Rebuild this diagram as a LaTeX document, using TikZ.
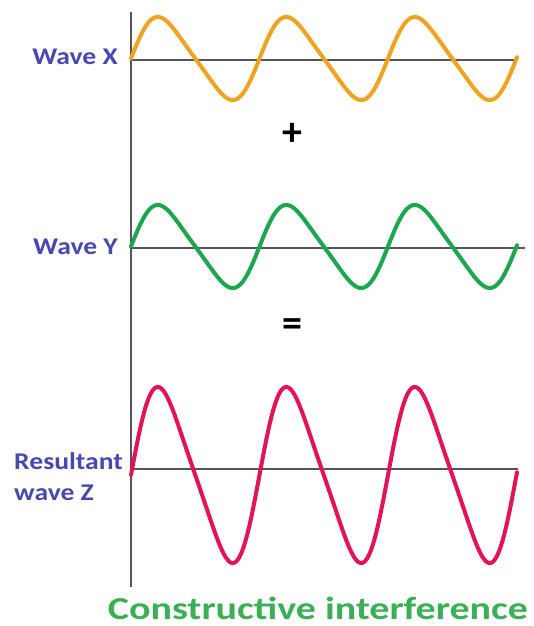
\documentclass[tikz,border=0pt]{standalone}
\usepackage{fontspec}
\setmainfont{Carlito}
\usetikzlibrary{positioning}
\definecolor{waveorange}{RGB}{240,162,32}
\definecolor{wavegreen}{RGB}{28,166,78}
\definecolor{wavepink}{RGB}{228,18,88}
\definecolor{labelblue}{RGB}{72,72,176}
\definecolor{titlegreen}{RGB}{58,175,85}
\definecolor{axisgray}{RGB}{85,85,85}
% one wave: centre line y, amplitude, colour (peaks lean a little to the left)
\newcommand{\wavecurve}[3]{%
  \draw[wave,#3] plot[domain=0:386,samples=240,variable=\t]
    ({131+\t},{#1-#2*lean(\t*2.8016)});%
}
\tikzset{
  declare function={lean(\a)=(sin(\a)+0.15*sin(2*\a))/1.04;},
  wave/.style={line width=4pt,line join=round,line cap=round},
  axisline/.style={axisgray,line width=1.6pt},
  wavelabel/.style={font=\bfseries\fontsize{24}{31}\selectfont,text=labelblue,
    inner sep=0pt,xscale=1.15},
  opsign/.style={font=\bfseries\fontsize{40}{40}\selectfont,inner sep=0pt}
}
\begin{document}
\begin{tikzpicture}[x=1pt,y=-1pt]
  \useasboundingbox (0,0) rectangle (534,626);
  % axes
  \coordinate (top) at (131,12);
  \coordinate (bottom) at (131,587);
  \coordinate (xend) at (517,60);
  \coordinate (yend) at (525,248);
  \coordinate (zend) at (518,469);
  \draw[axisline] (131,60) -- (xend);
  \draw[axisline] (131,248) -- (yend);
  \draw[axisline] (131,469) -- (zend);
  \draw[axisline,line width=2pt] (top) -- (bottom);
  % the three waves
  \wavecurve{58.5}{41.5}{waveorange}
  \wavecurve{246.5}{41.5}{wavegreen}
  \wavecurve{475}{88}{wavepink}
  % labels
  \node[wavelabel,anchor=east] (labelx) at (118,57) {Wave X};
  \node[wavelabel,anchor=east] (labely) at (118,247) {Wave Y};
  \node[wavelabel,anchor=west,align=left] (labelz) at (14,477) {Resultant\\wave Z};
  \node[opsign] (plus) at (292,134) {+};
  \node[opsign] (equals) at (292,328) {=};
  \node[font=\bfseries\fontsize{32}{36}\selectfont,text=titlegreen,anchor=base,
    xscale=1.25,inner sep=0pt] (title) at (318,619) {Constructive interference};
\end{tikzpicture}
\end{document}
